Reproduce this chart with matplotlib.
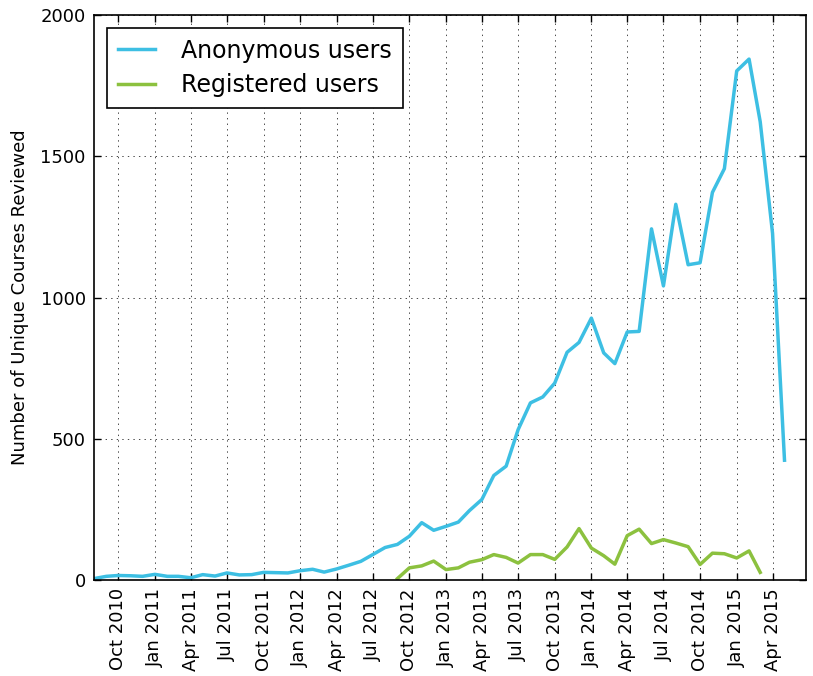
#!/usr/bin/env python3
# -*- coding: utf-8 -*-

import datetime as dt
import matplotlib
matplotlib.use("Agg")
import matplotlib.pyplot as plt
import matplotlib.dates as mdates

# monthly counts, Aug 2010 .. May 2015
anon_start = (2010, 8)
anon = [5, 13, 16, 15, 13,
        20, 13, 13, 8, 19, 14, 25, 18, 19, 27, 26, 25,
        33, 38, 28, 39, 52, 66, 90, 115, 126, 155, 203, 176,
        190, 205, 246, 285, 370, 403, 532, 627, 648, 697, 806, 841,
        927, 804, 766, 878, 880, 1243, 1041, 1330, 1116, 1123, 1372, 1456,
        1802, 1844, 1622, 1227, 424]

# monthly counts, Sep 2012 .. Mar 2015
reg_start = (2012, 9)
reg = [5, 43, 50, 67,
       37, 43, 63, 72, 90, 80, 60, 90, 90, 73, 117, 182,
       113, 86, 56, 157, 180, 129, 143, 131, 118, 55, 95, 93,
       78, 103, 27]

labels = ["Anonymous users", "Registered users"]
colors = ["#3dbfe3", "#8cc13f"]


def month_dates(start, n):
    y, m = start
    out = []
    for i in range(n):
        mm = m - 1 + i
        out.append(dt.date(y + mm // 12, mm % 12 + 1, 1))
    return out


def main():
    plt.rcParams["font.family"] = "DejaVu Sans"
    fig = plt.figure(figsize=(8.13, 6.76), dpi=100)
    ax = fig.add_axes([0.1156, 0.142, 0.8758, 0.8358])

    ax.plot(month_dates(anon_start, len(anon)), anon, color=colors[0],
            lw=2.5, label=labels[0])
    ax.plot(month_dates(reg_start, len(reg)), reg, color=colors[1],
            lw=2.5, label=labels[1])

    ax.set_xlim(dt.date(2010, 8, 1), dt.date(2015, 6, 24))
    ax.set_ylim(0, 2000)
    ax.set_yticks([0, 500, 1000, 1500, 2000])
    ax.xaxis.set_major_locator(mdates.MonthLocator(bymonth=[1, 4, 7, 10]))
    ax.xaxis.set_major_formatter(mdates.DateFormatter("%b %Y"))
    for t in ax.get_xticklabels():
        t.set_rotation(90)

    ax.tick_params(direction="in", top=True, right=True, length=5,
                   width=1, labelsize=13, pad=6)
    # sparse dotted grid
    ax.grid(True, color="black", linestyle=(0, (2, 6)), linewidth=0.5)
    for s in ax.spines.values():
        s.set_linewidth(1.2)

    ax.set_ylabel("Number of Unique Courses Reviewed", fontsize=13,
                  labelpad=8)

    leg = ax.legend(loc="upper left", fontsize=17, fancybox=False,
                    framealpha=1, edgecolor="black", handlelength=1.6,
                    handletextpad=1.1, borderpad=0.45, labelspacing=0.45,
                    bbox_to_anchor=(0.0, 1.0), borderaxespad=0.55)
    leg.get_frame().set_linewidth(1.2)

    fig.savefig("out.png", dpi=100)


if __name__ == "__main__":
    main()
